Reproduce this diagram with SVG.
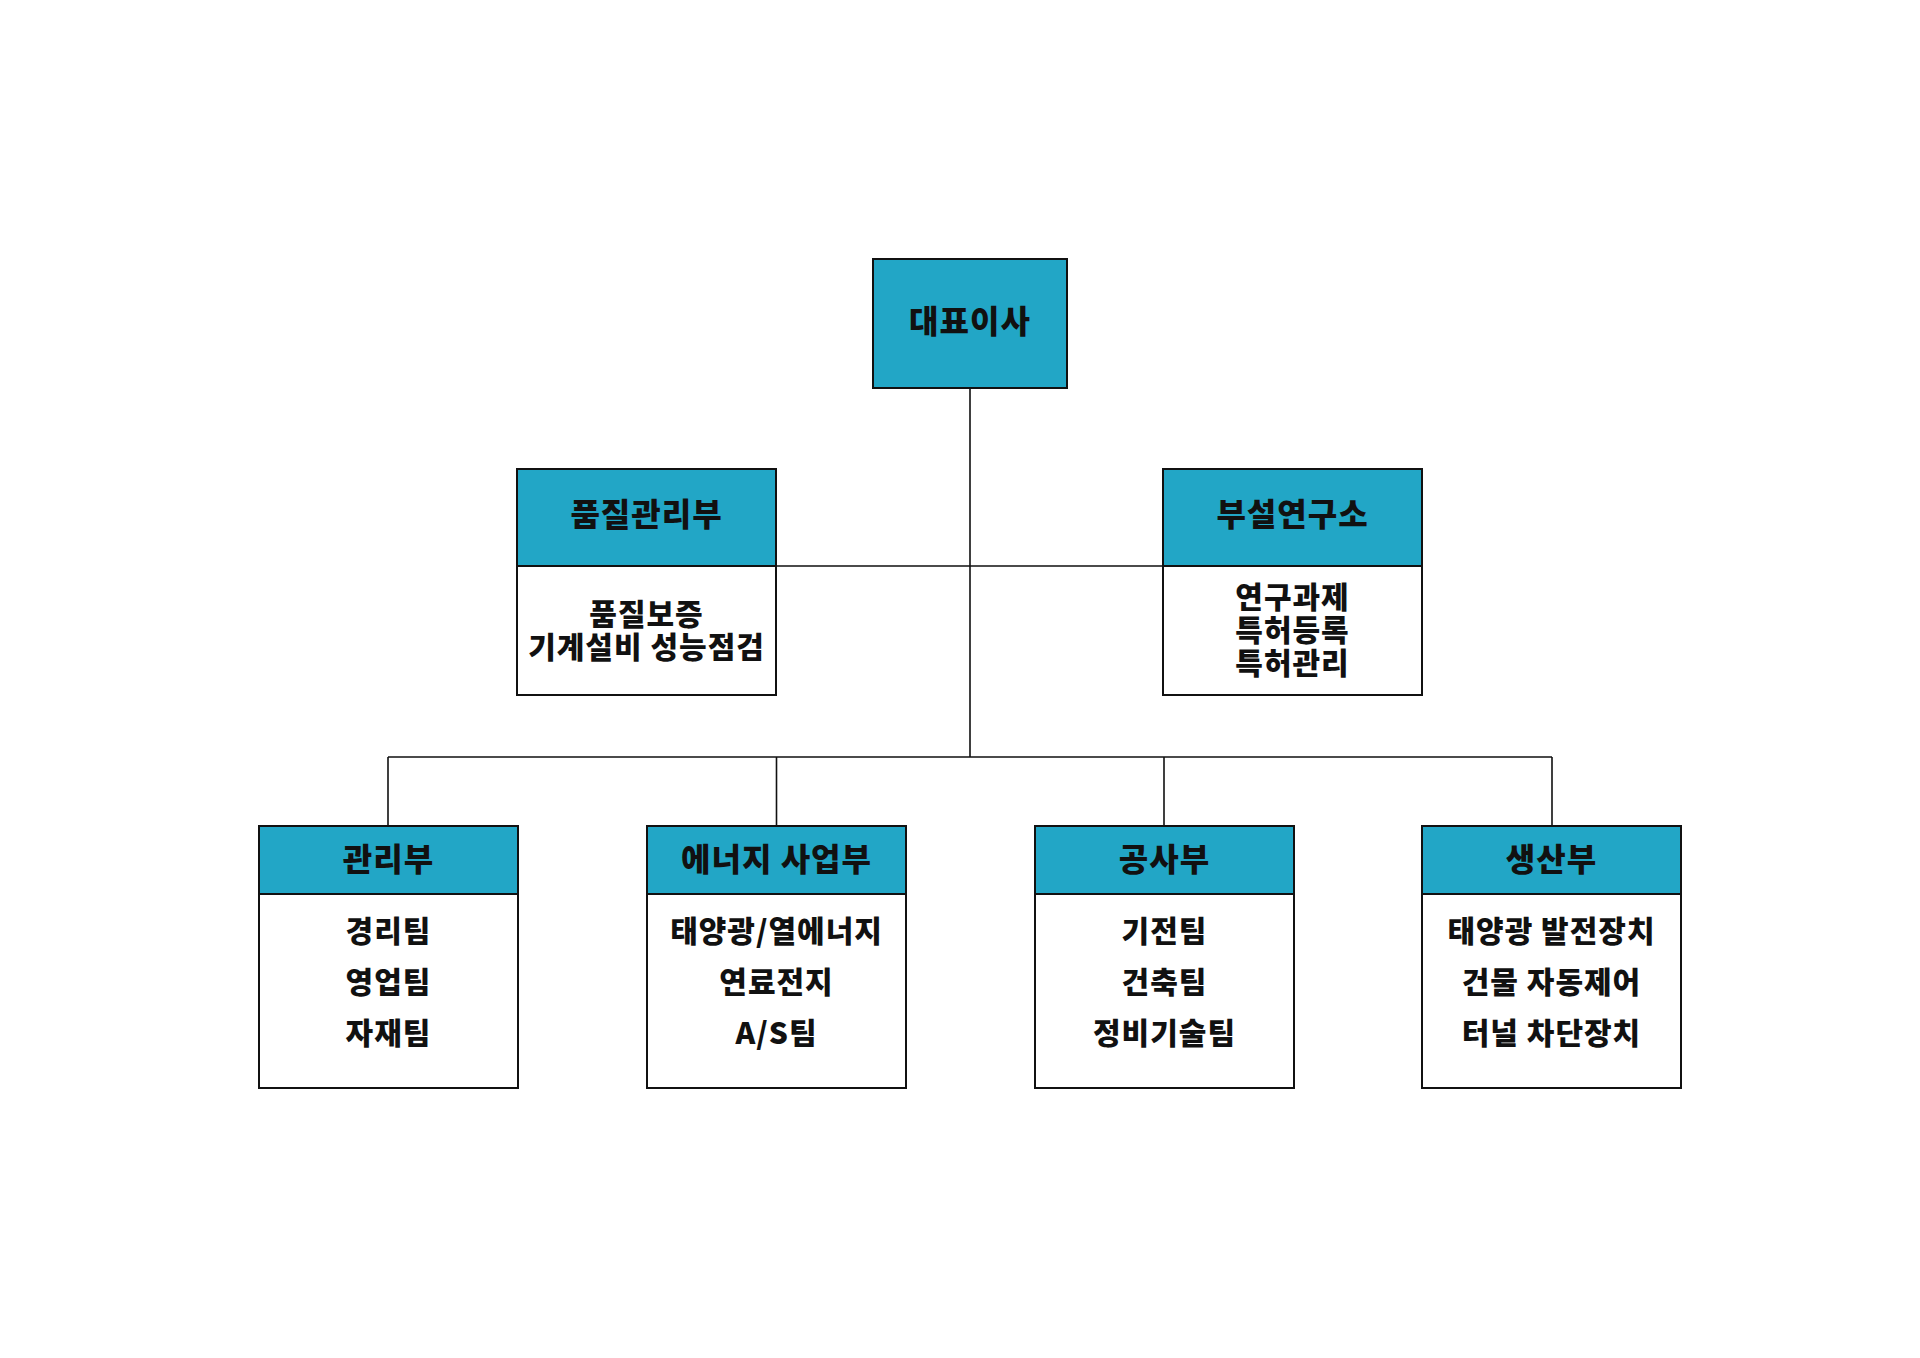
<svg xmlns="http://www.w3.org/2000/svg" width="1920" height="1358" viewBox="0 0 1920 1358">
<style>
.hd{fill:#22A6C6;stroke:#111;stroke-width:2}
.bd{fill:#fff;stroke:#111;stroke-width:2}
.t{font-family:"Noto Sans CJK KR","Noto Sans",sans-serif;font-weight:900;fill:#111;text-anchor:middle;dominant-baseline:central}
.ti{font-size:32px;letter-spacing:1px}
.tb{font-size:30px;letter-spacing:1px}
.cn{fill:none;stroke:#111;stroke-width:1.6}
</style>
<rect width="1920" height="1358" fill="#fff"/>
<g id="connectors">
<path class="cn" d="M970 388V757M776 566H1163M388 757H1552M388 757V826M776.5 757V826M1164 757V826M1552 757V826"/>
</g>
<g id="ceo">
<rect class="hd" x="873" y="259" width="194" height="129"/>
<text class="t ti" x="970" y="319">대표이사</text>
</g>
<g id="quality">
<rect class="bd" x="517" y="469" width="259" height="226"/>
<rect class="hd" x="517" y="469" width="259" height="97"/>
<text class="t ti" x="646.5" y="512">품질관리부</text>
<text class="t tb" x="646.5" y="612">품질보증</text>
<text class="t tb" x="646.5" y="645">기계설비 성능점검</text>
</g>
<g id="lab">
<rect class="bd" x="1163" y="469" width="259" height="226"/>
<rect class="hd" x="1163" y="469" width="259" height="97"/>
<text class="t ti" x="1292.5" y="512">부설연구소</text>
<text class="t tb" x="1292.5" y="595">연구과제</text>
<text class="t tb" x="1292.5" y="628">특허등록</text>
<text class="t tb" x="1292.5" y="661">특허관리</text>
</g>
<g id="admin">
<rect class="bd" x="259" y="826" width="259" height="262"/>
<rect class="hd" x="259" y="826" width="259" height="68"/>
<text class="t ti" x="388.5" y="857">관리부</text>
<text class="t tb" x="388.5" y="929">경리팀</text>
<text class="t tb" x="388.5" y="980">영업팀</text>
<text class="t tb" x="388.5" y="1031">자재팀</text>
</g>
<g id="energy">
<rect class="bd" x="647" y="826" width="259" height="262"/>
<rect class="hd" x="647" y="826" width="259" height="68"/>
<text class="t ti" x="776.5" y="857">에너지 사업부</text>
<text class="t tb" x="776.5" y="929">태양광/열에너지</text>
<text class="t tb" x="776.5" y="980">연료전지</text>
<text class="t tb" x="776.5" y="1031">A/S팀</text>
</g>
<g id="construction">
<rect class="bd" x="1035" y="826" width="259" height="262"/>
<rect class="hd" x="1035" y="826" width="259" height="68"/>
<text class="t ti" x="1164.5" y="857">공사부</text>
<text class="t tb" x="1164.5" y="929">기전팀</text>
<text class="t tb" x="1164.5" y="980">건축팀</text>
<text class="t tb" x="1164.5" y="1031">정비기술팀</text>
</g>
<g id="production">
<rect class="bd" x="1422" y="826" width="259" height="262"/>
<rect class="hd" x="1422" y="826" width="259" height="68"/>
<text class="t ti" x="1551.5" y="857">생산부</text>
<text class="t tb" x="1551.5" y="929">태양광 발전장치</text>
<text class="t tb" x="1551.5" y="980">건물 자동제어</text>
<text class="t tb" x="1551.5" y="1031">터널 차단장치</text>
</g>
</svg>
